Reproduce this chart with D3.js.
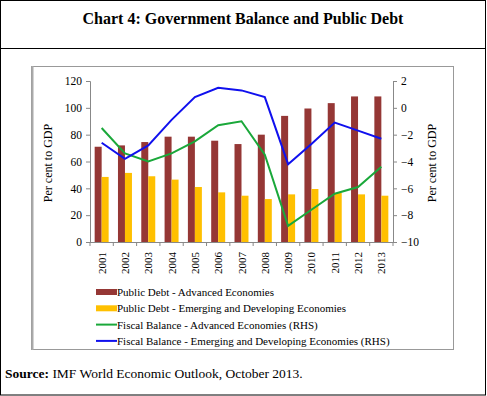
<!DOCTYPE html>
<meta charset="utf-8">
<script src="https://cdn.jsdelivr.net/npm/d3@7"></script>
<style>
body { margin: 0; background: #fff; }
text { font-family: "Liberation Serif", "Times New Roman", serif; fill: #000; }
.axis path, .axis line { stroke: #888; }
</style>
<body></body>
<script>
var years = ["2001","2002","2003","2004","2005","2006","2007","2008","2009","2010","2011","2012","2013"];
var debtAdvanced = [71, 72, 74.5, 78.5, 78.5, 75.5, 73, 80, 94, 99.5, 103.5, 108.5, 108.5];
var debtEmerging = [48.5, 51.5, 49, 46.5, 41, 37, 34.5, 32, 35.5, 39.5, 36.5, 35.5, 34.5];
var balAdvanced = [-1.5, -3.4, -4.0, -3.4, -2.5, -1.3, -1.0, -3.5, -8.8, -7.6, -6.4, -5.9, -4.4];
var balEmerging = [-2.6, -3.8, -2.8, -0.9, 0.8, 1.5, 1.3, 0.8, -4.2, -2.7, -1.1, -1.7, -2.3];
var leftTicks = [0, 20, 40, 60, 80, 100, 120];
var rightTicks = [2, 0, -2, -4, -6, -8, -10];
var legendLabels = ["Public Debt - Advanced Economies",
  "Public Debt - Emerging and Developing Economies",
  "Fiscal Balance  - Advanced Economies (RHS)",
  "Fiscal Balance  - Emerging and Developing Economies (RHS)"];

var W = 487, H = 396;
var colors = ["#953735", "#ffc000", "#1aa83a", "#1010ee"];
var serif = "'Liberation Serif', 'Times New Roman', serif";

var svg = d3.select("body").append("svg")
    .attr("width", W).attr("height", H);

// outer frame + title row
svg.append("rect").attr("x", 0.5).attr("y", 0.5)
    .attr("width", W - 2).attr("height", H - 1.5)
    .attr("fill", "none").attr("stroke", "#000");
svg.append("line").attr("x1", 0).attr("x2", W - 1)
    .attr("y1", 48.5).attr("y2", 48.5).attr("stroke", "#000");
svg.append("text").text("Chart 4: Government Balance and Public Debt")
    .attr("x", 243).attr("y", 24).attr("text-anchor", "middle")
    .attr("font-weight", "bold").attr("font-size", "16px");

// chart frame
svg.append("rect").attr("x", 31.5).attr("y", 66.5)
    .attr("width", 422).attr("height", 283)
    .attr("fill", "none").attr("stroke", "#999");
svg.append("line").attr("x1", 32.5).attr("x2", 32.5)
    .attr("y1", 66).attr("y2", 350).attr("stroke", "#aaa").attr("stroke-width", 2);

var margin = {left: 90, right: 393, top: 81, bottom: 242};

var x = d3.scaleBand().domain(years)
    .range([margin.left, margin.right]).paddingInner(0.4).paddingOuter(0.2);
var yL = d3.scaleLinear().domain([0, 120]).range([margin.bottom, margin.top]);
var yR = d3.scaleLinear().domain([-10, 2]).range([margin.bottom, margin.top]);
var sub = d3.scaleBand().domain([0, 1]).range([0, x.bandwidth()]);

// bars
[debtAdvanced, debtEmerging].forEach(function(series, k) {
  svg.append("g").selectAll("rect").data(series).enter().append("rect")
    .attr("x", function(d, i) { return x(years[i]) + sub(k); })
    .attr("width", sub.bandwidth())
    .attr("y", function(d) { return yL(d); })
    .attr("height", function(d) { return yL(0) - yL(d); })
    .attr("fill", colors[k]);
});

// axes
var gl = svg.append("g").attr("class", "axis")
    .attr("transform", "translate(" + margin.left + ",0)")
    .call(d3.axisLeft(yL).tickValues(leftTicks).tickSize(4).tickPadding(4));
var gr = svg.append("g").attr("class", "axis")
    .attr("transform", "translate(" + margin.right + ",0)")
    .call(d3.axisRight(yR).tickValues(rightTicks).tickSize(4).tickPadding(4));
[gl, gr].forEach(function(g) {
  g.attr("font-family", serif);
  g.selectAll("text").attr("font-size", "11.5px").style("font-family", serif);
});

// x axis with boundary ticks
var gx = svg.append("g").attr("class", "axis");
gx.append("line").attr("x1", margin.left).attr("x2", margin.right)
    .attr("y1", margin.bottom + 0.5).attr("y2", margin.bottom + 0.5);
gx.selectAll(".bt").data(d3.range(years.length + 1)).enter().append("line")
    .attr("x1", function(i) { return margin.left + i * (margin.right - margin.left) / years.length; })
    .attr("x2", function(i) { return margin.left + i * (margin.right - margin.left) / years.length; })
    .attr("y1", margin.bottom).attr("y2", margin.bottom + 4);
gx.selectAll("text").data(years).enter().append("text")
    .text(function(d) { return d; })
    .attr("transform", function(d) {
      return "translate(" + (x(d) + x.bandwidth() / 2 + 4) + "," + (margin.bottom + 10) + ") rotate(-90)";
    })
    .attr("text-anchor", "end").attr("font-size", "11px");

// lines
var line = d3.line().x(function(d, i) { return x(years[i]) + x.bandwidth() / 2; })
    .y(function(d) { return yR(d); });
[balAdvanced, balEmerging].forEach(function(series, k) {
  svg.append("path").datum(series)
    .attr("d", line).attr("fill", "none")
    .attr("stroke", colors[k + 2]).attr("stroke-width", 2);
});

// axis titles
svg.append("text").text("Per cent to GDP")
    .attr("transform", "translate(52,163) rotate(-90)")
    .attr("text-anchor", "middle").attr("font-size", "12px");
svg.append("text").text("Per cent to GDP")
    .attr("transform", "translate(436,163) rotate(-90)")
    .attr("text-anchor", "middle").attr("font-size", "12px");

// legend
var lg = svg.selectAll(".lg").data(legendLabels).enter().append("g")
    .attr("transform", function(d, i) { return "translate(96," + (292 + i * 16.3) + ")"; });
lg.each(function(d, i) {
  var g = d3.select(this);
  if (i < 2) {
    g.append("rect").attr("x", 0).attr("y", -3).attr("width", 21).attr("height", 6)
      .attr("fill", colors[i]);
  } else {
    g.append("line").attr("x1", 0).attr("x2", 21).attr("y1", 0).attr("y2", 0)
      .attr("stroke", colors[i]).attr("stroke-width", 2);
  }
  g.append("text").text(d).attr("x", 21).attr("y", 4)
    .attr("font-size", "11px");
});

// source
var src = svg.append("text").attr("x", 5).attr("y", 378).attr("font-size", "13.5px");
src.append("tspan").text("Source: ").attr("font-weight", "bold");
src.append("tspan").text("IMF World Economic Outlook, October 2013.");
</script>
